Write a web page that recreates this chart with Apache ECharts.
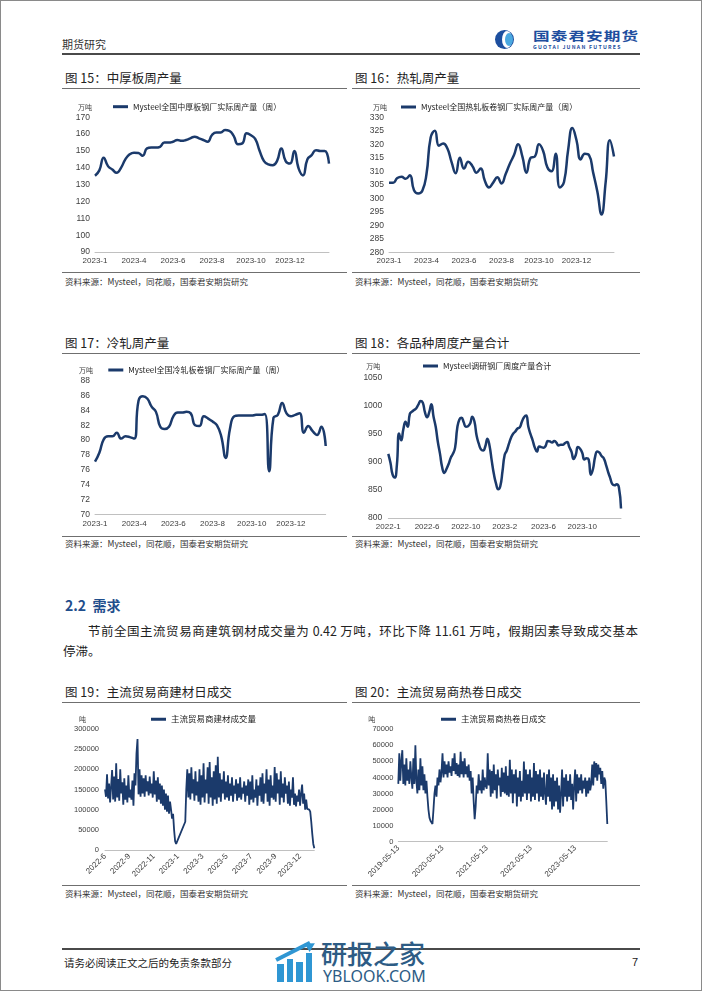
<!DOCTYPE html>
<html><head><meta charset="utf-8">
<script src="https://cdn.jsdelivr.net/npm/echarts@6/dist/echarts.min.js"></script>
<style>
html,body{margin:0;padding:0;background:#fff;}
body{width:702px;height:992px;position:relative;overflow:hidden;}
.t{position:absolute;white-space:nowrap;line-height:1;font-family:'Noto Sans CJK SC','Noto Sans',sans-serif;color:#222;}
.ln{position:absolute;height:1px;background:#6f6f6f;}
.ch{position:absolute;}
</style></head><body>
<script>
// ---------------- DATA ----------------
const c15Name = 'Mysteel全国中厚板钢厂实际周产量（周）';
const c15Ticks = ['2023-1','2023-4','2023-6','2023-8','2023-10','2023-12'];
const c15Vals = [135.3,138.5,146,141,139,137,140,145,148,149,
148.8,147.2,151.5,152,152,152.5,155,155,155.5,156.5,
156,156.5,157.5,158.5,157.5,156.5,155.5,159.5,161,161,
162.5,162,159,154,154.5,160.5,159.3,157,150,144,
142,141.5,144,151.5,144,142.5,150,139.5,135.5,145,
147.5,150.5,150,150,142.5];

const c16Name = 'Mysteel全国热轧板卷钢厂实际周产量（周）';
const c16Ticks = ['2023-1','2023-4','2023-6','2023-8','2023-10','2023-12'];
const c16Vals = [305.8,305.8,307.5,308,307.2,308.5,303,301.8,302.8,309,
322.5,325,319.5,320.3,318.5,313.5,309.3,315,311,313.5,
312,309.5,311,306.5,304,305.8,307.8,305.5,309,312.8,
316,320,315.5,309.5,315,315.5,320,317.5,311.5,310,
316.5,304,306,318,326,321.5,314.4,316.5,316,309.5,
302.5,294,306,321.5,315.5];

const c17Name = 'Mysteel全国冷轧板卷钢厂实际周产量（周）';
const c17Ticks = ['2023-1','2023-4','2023-6','2023-8','2023-10','2023-12'];
const c17Vals = [77.1,78.3,80.1,80.5,80.5,81,80.2,80.5,80.4,80.2,
85.3,85.9,85.6,84.5,83.8,81.8,81.5,81.8,83.2,83.7,
83.7,83.8,83.6,82,81.9,83.2,82.9,82.5,82,80.5,
77.6,81.5,83.2,83.3,83.3,83.3,83.3,83.4,83.4,83.5,
75.8,83,83.4,85,83.6,83.2,83.4,83.6,81,81.9,
81.2,80.7,81.8,79.2];

const c18Name = 'Mysteel调研钢厂周度产量合计';
const c18Ticks = ['2022-1','2022-6','2022-10','2023-2','2023-6','2023-10'];
const c18Vals = [914,898,877,872,895,950,938,958,971,962,
985,989,992,995,1002,1008,1005,988,979,988,
1002,980,962,935,914,890,880,887,896,907,
914,925,960,975,978,970,962,963,968,980,
971,946,932,922,920,927,941,928,902,878,
861,851,857,883,912,920,932,943,950,954,
959,961,971,979,982,962,949,938,925,918,
927,926,925,928,937,936,934,937,934,929,
930,930,933,935,926,918,905,912,926,923,
916,904,906,904,877,887,909,918,916,910,
906,895,882,871,860,858,860,855,817];

const c19Name = '主流贸易商建材成交量';
const c19Ticks = ['2022-6','2022-9','2022-11','2023-1','2023-3','2023-5','2023-7','2023-9','2023-12'];
const c19Vals = [150000,132000,188000,128000,165000,118000,158000,198000,125000,
182000,120000,215000,130000,176000,122000,200000,140000,
168000,112000,178000,125000,160000,118000,185000,130000,150000,125000,
172000,110000,190000,160000,
240000,275000,
138000,200000,132000,185000,
140000,178000,132000,185000,145000,170000,135000,182000,140000,165000,
130000,195000,138000,172000,
120000,180000,125000,165000,115000,160000,
110000,150000,100000,140000,95000,135000,90000,120000,
100000,78000,90000,
50000,22000,15000,
null,null,null,null,null,null,null,null,
70000,
150000,200000,130000,190000,125000,205000,140000,175000,122000,195000,135000,170000,120000,
200000,112000,185000,130000,215000,118000,175000,140000,205000,115000,218000,130000,180000,
110000,195000,125000,210000,115000,231000,
130000,190000,120000,175000,140000,195000,125000,170000,130000,185000,122000,165000,135000,180000,120000,160000,
140000,175000,122000,165000,130000,180000,125000,155000,140000,170000,120000,160000,135000,175000,
112000,170000,125000,185000,118000,150000,130000,175000,110000,160000,135000,180000,120000,
190000,115000,165000,140000,200000,120000,175000,110000,185000,130000,160000,125000,206000,
120000,190000,140000,175000,112000,195000,130000,165000,118000,180000,140000,160000,115000,
170000,110000,150000,130000,180000,112000,140000,
108000,135000,120000,150000,110000,140000,162000,
115000,140000,100000,125000,102000,
98000,100000,95000,
70000,40000,15000,4200];

const c20Name = '主流贸易商热卷日成交';
const c20Ticks = ['2019-05-13','2020-05-13','2021-05-13','2022-05-13','2023-05-13'];
const c20Vals = [36000,55000,38000,50000,
57000,
36000,48000,35000,52000,38000,45000,36000,50000,40000,
33000,52000,36000,60000,38000,
30000,45000,32000,
52000,35000,47000,
32000,42000,30000,38000,28000,
20000,15000,13000,12000,11000,
20000,30000,
35000,28000,
40000,35000,45000,37000,43000,
55000,40000,50000,
42000,48000,40000,50000,43000,47000,41000,52000,44000,55000,42000,49000,41000,
48000,40000,56000,42000,
50000,40000,52000,42000,47000,40000,48000,38000,
44000,30000,40000,
25000,14000,22000,
35000,30000,42000,32000,38000,
30000,45000,32000,40000,35000,
33000,55000,35000,45000,
28000,44000,30000,48000,32000,42000,27000,45000,35000,40000,28000,46000,31000,43000,30000,47000,29000,41000,
28000,51000,30000,45000,
24000,42000,30000,45000,22000,40000,28000,44000,25000,38000,
28000,50000,30000,45000,
26000,42000,30000,45000,25000,40000,
28000,49000,26000,44000,30000,
42000,25000,45000,28000,40000,26000,43000,30000,
23000,42000,28000,45000,25000,
40000,20000,42000,
22000,38000,25000,40000,20000,35000,18000,
30000,45000,22000,40000,28000,
42000,25000,38000,28000,42000,26000,36000,
20000,
35000,45000,25000,42000,30000,
40000,32000,42000,30000,38000,33000,40000,
28000,38000,30000,40000,32000,36000,
48000,35000,50000,
40000,49000,38000,48000,42000,46000,
36000,44000,33000,40000,38000,
25000,11000];
</script>

<div style="position:absolute;left:0;top:0;width:700px;height:989px;border:1px solid #8a8a8a;"></div>

<!-- header -->
<div class="t" style="left:62px;top:39px;font-size:11px;color:#333;">期货研究</div>
<div style="position:absolute;left:62px;top:53px;width:578px;height:1.5px;background:#4a4a4a;"></div>
<div style="position:absolute;left:495px;top:30px;width:19px;height:19px;border-radius:50%;background:#1d4f9f;"></div>
<div style="position:absolute;left:502px;top:31px;width:10px;height:17px;border-radius:50%;background:#fff;"></div>
<div style="position:absolute;left:504.5px;top:33px;width:8px;height:13px;border-radius:50%;background:#4aa8e0;"></div>
<div class="t" style="left:533px;top:30px;font-size:12.5px;font-weight:700;color:#1e4e9e;letter-spacing:0.8px;transform:scaleX(1.33);transform-origin:0 0;">国泰君安期货</div>
<div class="t" style="left:533px;top:43.5px;font-size:5.2px;font-weight:700;color:#1e4e9e;letter-spacing:1.25px;">GUOTAI JUNAN FUTURES</div>

<!-- row 1 -->
<div class="t" style="left:65px;top:71.5px;font-size:12.5px;">图 15：中厚板周产量</div>
<div class="t" style="left:355px;top:71.5px;font-size:12.5px;">图 16：热轧周产量</div>
<div class="ln" style="left:62px;top:88px;width:285px;"></div>
<div class="ln" style="left:352px;top:88px;width:288px;"></div>
<div class="ch" id="c15" style="left:62px;top:95px;width:286px;height:175px;"></div>
<div class="ch" id="c16" style="left:351px;top:95px;width:289px;height:175px;"></div>
<div class="ln" style="left:62px;top:271.5px;width:285px;"></div>
<div class="ln" style="left:352px;top:271.5px;width:288px;"></div>
<div class="t" style="left:65px;top:276.5px;font-size:8.5px;color:#333;">资料来源：Mysteel，同花顺，国泰君安期货研究</div>
<div class="t" style="left:355px;top:276.5px;font-size:8.5px;color:#333;">资料来源：Mysteel，同花顺，国泰君安期货研究</div>

<!-- row 2 -->
<div class="t" style="left:65px;top:336.5px;font-size:12.5px;">图 17：冷轧周产量</div>
<div class="t" style="left:355px;top:336.5px;font-size:12.5px;">图 18：各品种周度产量合计</div>
<div class="ln" style="left:62px;top:352.5px;width:285px;"></div>
<div class="ln" style="left:352px;top:352.5px;width:288px;"></div>
<div class="ch" id="c17" style="left:62px;top:355px;width:286px;height:180px;"></div>
<div class="ch" id="c18" style="left:351px;top:355px;width:289px;height:180px;"></div>
<div class="ln" style="left:62px;top:535.5px;width:285px;"></div>
<div class="ln" style="left:352px;top:536px;width:288px;"></div>
<div class="t" style="left:65px;top:538.5px;font-size:8.5px;color:#333;">资料来源：Mysteel，同花顺，国泰君安期货研究</div>
<div class="t" style="left:355px;top:538.5px;font-size:8.5px;color:#333;">资料来源：Mysteel，同花顺，国泰君安期货研究</div>

<!-- section -->
<div class="t" style="left:65px;top:598px;font-size:14px;font-weight:700;color:#1f4e8c;">2.2&nbsp;&nbsp;需求</div>
<div class="t" style="left:88px;top:624.5px;font-size:12.5px;width:550px;text-align:justify;text-align-last:justify;white-space:normal;">节前全国主流贸易商建筑钢材成交量为 0.42 万吨，环比下降 11.61 万吨，假期因素导致成交基本</div>
<div class="t" style="left:63px;top:644.5px;font-size:12.5px;">停滞。</div>

<!-- row 3 -->
<div class="t" style="left:65px;top:686px;font-size:12.5px;">图 19：主流贸易商建材日成交</div>
<div class="t" style="left:355px;top:686px;font-size:12.5px;">图 20：主流贸易商热卷日成交</div>
<div class="ln" style="left:62px;top:702px;width:285px;"></div>
<div class="ln" style="left:352px;top:702px;width:288px;"></div>
<div class="ch" id="c19" style="left:62px;top:705px;width:286px;height:178px;"></div>
<div class="ch" id="c20" style="left:351px;top:705px;width:289px;height:178px;"></div>
<div class="ln" style="left:62px;top:885px;width:285px;"></div>
<div class="ln" style="left:352px;top:885px;width:288px;"></div>
<div class="t" style="left:65px;top:888.5px;font-size:8.5px;color:#333;">资料来源：Mysteel，同花顺，国泰君安期货研究</div>
<div class="t" style="left:355px;top:888.5px;font-size:8.5px;color:#333;">资料来源：Mysteel，同花顺，国泰君安期货研究</div>

<!-- footer -->
<div style="position:absolute;left:62px;top:948px;width:578px;height:1.5px;background:#4a4a4a;"></div>
<div class="t" style="left:64px;top:958px;font-size:10.5px;color:#222;">请务必阅读正文之后的免责条款部分</div>
<div class="t" style="left:632px;top:957px;font-size:11px;color:#222;font-family:'Liberation Sans',Arial,sans-serif;">7</div>
<!-- yblook mark -->
<div style="position:absolute;left:277px;top:964px;width:6.5px;height:18px;background:#2f96d3;"></div>
<div style="position:absolute;left:286.5px;top:959px;width:6.5px;height:23px;background:#2f96d3;"></div>
<div style="position:absolute;left:296px;top:962px;width:6.5px;height:20px;background:#2f96d3;"></div>
<div style="position:absolute;left:305.5px;top:953px;width:6.5px;height:29px;background:#2f96d3;"></div>
<div style="position:absolute;left:276px;top:958px;width:38px;height:3.5px;background:#2f96d3;transform:rotate(-27deg);transform-origin:0 50%;"></div>
<div style="position:absolute;left:306px;top:941px;width:0;height:0;border-left:5px solid transparent;border-right:5px solid transparent;border-bottom:9px solid #2f96d3;transform:rotate(60deg);"></div>
<div class="t" style="left:321px;top:940px;font-size:26px;font-weight:500;color:#2d5c85;">研报之家</div>
<div class="t" style="left:323px;top:968px;font-size:16px;color:#2d5c85;font-family:'Noto Sans','Open Sans',sans-serif;">YBLOOK.COM</div>

<script>
const FONT = "'Noto Sans CJK SC','Noto Sans',sans-serif";
const NUMFONT = "'Liberation Sans',Arial,sans-serif";
const LINE = '#1b3a6b';
function makeChart(id, o) {
  const chart = echarts.init(document.getElementById(id), null, {renderer: 'canvas'});
  const cats = o.values.map((_, i) => i);
  chart.setOption({
    animation: false,
    grid: {left: o.grid[0], top: o.grid[1], right: o.grid[2], bottom: o.grid[3], containLabel: false, outerBoundsMode: 'none'},
    legend: {show: true, left: o.legend[0], top: o.legend[1], padding: 0, itemWidth: 15, itemHeight: 3, itemGap: 5,
      icon: 'rect', data: [o.name], textStyle: {fontSize: o.legendFont, color: '#222', fontFamily: FONT}},
    xAxis: {type: 'category', data: cats, boundaryGap: false,
      axisLine: {show: true, lineStyle: {color: '#c0c0c0', width: 1}},
      axisTick: {show: false}, splitLine: {show: false},
      axisLabel: {interval: o.step - 1, rotate: o.rotate || 0, margin: o.xMargin, fontSize: o.xFont, color: '#404040', fontFamily: NUMFONT,
        formatter: (v, i) => (i % o.step === 0 ? (o.ticks[i / o.step] || '') : '')}},
    yAxis: {type: 'value', min: o.min, max: o.max, interval: o.interval,
      name: o.unit, nameLocation: 'end', nameGap: o.nameGap,
      nameTextStyle: {fontSize: 7, color: '#404040', fontFamily: FONT, align: 'right', verticalAlign: 'middle', padding: [0, o.namePad, 0, 0]},
      axisLine: {show: false}, axisTick: {show: false}, splitLine: {show: false},
      axisLabel: {fontSize: o.yFont, color: '#404040', margin: o.yMargin, fontFamily: NUMFONT, formatter: v => String(v)}},
    series: [{type: 'line', name: o.name, data: o.values, smooth: o.smooth, symbol: 'none', connectNulls: true,
      lineStyle: {color: LINE, width: o.lw}, itemStyle: {color: LINE}}]
  });
}
makeChart('c15', {values: c15Vals, ticks: c15Ticks, name: c15Name, step: 9, min: 90, max: 170, interval: 10,
  grid: [33, 22.3, 19, 18], legend: [51, 7.7], legendFont: 8, unit: '万吨', nameGap: 10.3, namePad: 3,
  lw: 2.5, smooth: 0.5, xFont: 8, yFont: 8.5, xMargin: 4.5, yMargin: 5});
makeChart('c16', {values: c16Vals, ticks: c16Ticks, name: c16Name, step: 9, min: 280, max: 330, interval: 5,
  grid: [38, 22.3, 26, 17.7], legend: [50, 8], legendFont: 8, unit: '万吨', nameGap: 10.3, namePad: 2,
  lw: 2.5, smooth: 0.5, xFont: 8, yFont: 8.5, xMargin: 4.5, yMargin: 5});
makeChart('c17', {values: c17Vals, ticks: c17Ticks, name: c17Name, step: 9, min: 70, max: 88, interval: 2,
  grid: [33, 25.7, 22.3, 20.7], legend: [46.3, 11], legendFont: 8, unit: '万吨', nameGap: 10.7, namePad: 2,
  lw: 2.5, smooth: 0.5, xFont: 8, yFont: 8.5, xMargin: 5, yMargin: 5});
makeChart('c18', {values: c18Vals, ticks: c18Ticks, name: c18Name, step: 18, min: 800, max: 1050, interval: 50,
  grid: [37.3, 22.3, 19, 17], legend: [72, 7], legendFont: 8, unit: '万吨', nameGap: 11.3, namePad: 8,
  lw: 2.5, smooth: 0.5, xFont: 8, yFont: 8.5, xMargin: 4.5, yMargin: 6});
makeChart('c19', {values: c19Vals, ticks: c19Ticks, name: c19Name, step: 24, min: 0, max: 300000, interval: 50000,
  grid: [43, 24, 33.7, 33], legend: [89, 10], legendFont: 8.5, unit: '吨', nameGap: 10, namePad: 19,
  lw: 1.8, smooth: false, xFont: 8, yFont: 7.5, xMargin: 5, yMargin: 6, rotate: 45});
makeChart('c20', {values: c20Vals, ticks: c20Ticks, name: c20Name, step: 44, min: 0, max: 70000, interval: 10000,
  grid: [47.3, 24.3, 32.7, 41.3], legend: [90, 10], legendFont: 8.5, unit: '吨', nameGap: 10.3, namePad: 23,
  lw: 1.8, smooth: false, xFont: 8, yFont: 7.5, xMargin: 5, yMargin: 5, rotate: 45});
</script>
</body></html>
